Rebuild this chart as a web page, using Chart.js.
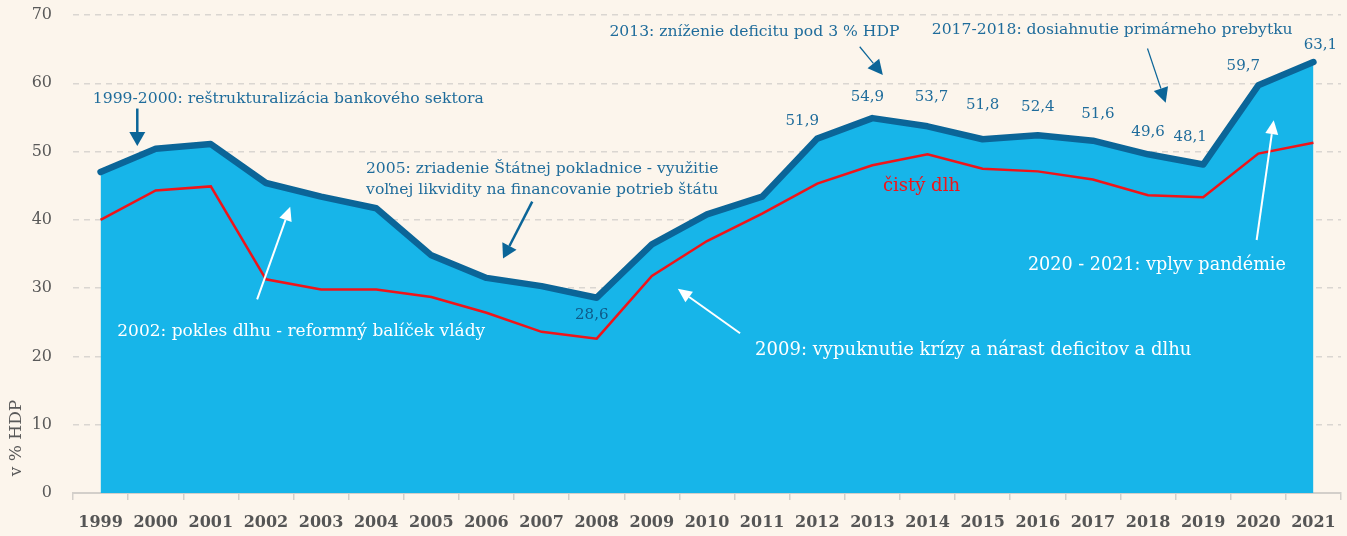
<!DOCTYPE html>
<html>
<head>
<meta charset="utf-8">
<script src="https://cdn.jsdelivr.net/npm/chart.js@4.4.0/dist/chart.umd.min.js"></script>
<style>
  html, body { margin: 0; padding: 0; background: #fcf5ec; }
  canvas { display: block; }
</style>
</head>
<body>
<canvas id="debtChart" width="1347" height="536"></canvas>
<script>
// Slovak public debt, % of GDP
const years = ['1999', '2000', '2001', '2002', '2003', '2004', '2005', '2006', '2007', '2008', '2009',
               '2010', '2011', '2012', '2013', '2014', '2015', '2016', '2017', '2018', '2019', '2020', '2021'];
const grossDebt = [47.0, 50.4, 51.1, 45.4, 43.4, 41.7, 34.8, 31.5, 30.3, 28.6, 36.4,
                   40.8, 43.4, 51.9, 54.9, 53.7, 51.8, 52.4, 51.6, 49.6, 48.1, 59.7, 63.1];
const netDebt = [40.0, 44.3, 44.9, 31.3, 29.8, 29.8, 28.7, 26.4, 23.6, 22.6, 31.8,
                 36.9, 40.9, 45.3, 48.0, 49.6, 47.5, 47.1, 45.9, 43.6, 43.3, 49.7, 51.3];
const yTickValues = [0, 10, 20, 30, 40, 50, 60, 70];
const labelledYears = ['2008', '2012', '2013', '2014', '2015', '2016', '2017', '2018', '2019', '2020', '2021'];
const axisTitle = 'v % HDP';
const netDebtLabel = 'čistý dlh';

// Pixel nudges of the value labels from their points
const valueLabelOffsets = {
  '2008': [-5, 17], '2012': [-15, -17], '2013': [-5, -21], '2014': [4, -29], '2015': [0, -34],
  '2016': [0, -28], '2017': [5, -27], '2018': [0, -22], '2019': [-13, -27], '2020': [-15, -19], '2021': [7, -17]
};

const SERIF = '"DejaVu Serif", serif';
const NOTE_BLUE = '#1f6c9b';
const LINE_BLUE = '#0b6598';
const FILL_BLUE = '#17b5e9';
const RED = '#f01419';

// Event notes, anchored in (category index, value) space
const notes = [
  { lines: ['1999-2000: reštrukturalizácia bankového sektora'], at: [-0.14, 57.7], align: 'left', color: NOTE_BLUE, size: 15.6 },
  { lines: ['2005: zriadenie Štátnej pokladnice - využitie', 'voľnej likvidity na financovanie potrieb štátu'], at: [8.01, 47.5], align: 'center', color: NOTE_BLUE, size: 15.6, lineGap: 21.5 },
  { lines: ['2013: zníženie deficitu pod 3 % HDP'], at: [11.86, 67.55], align: 'center', color: NOTE_BLUE, size: 15.6 },
  { lines: ['2017-2018: dosiahnutie primárneho prebytku'], at: [18.35, 67.8], align: 'center', color: NOTE_BLUE, size: 15.6 },
  { lines: ['2002: pokles dlhu - reformný balíček vlády'], at: [3.64, 23.6], align: 'center', color: '#ffffff', size: 17 },
  { lines: ['2009: vypuknutie krízy a nárast deficitov a dlhu'], at: [15.83, 20.94], align: 'center', color: '#ffffff', size: 18 },
  { lines: ['2020 - 2021: vplyv pandémie'], at: [19.16, 33.4], align: 'center', color: '#ffffff', size: 17.6 },
  { lines: [netDebtLabel], at: [14.89, 44.85], align: 'center', color: RED, size: 18 }
];

const arrows = [
  { from: [0.666, 56.3], to: [0.666, 50.8], color: LINE_BLUE, shaft: 2.5, head: 14, width: 16 },
  { from: [7.83, 42.66], to: [7.30, 34.35], color: LINE_BLUE, shaft: 2.5, head: 14, width: 16 },
  { from: [13.77, 65.35], to: [14.19, 61.2], color: LINE_BLUE, shaft: 1.2, head: 15, width: 15 },
  { from: [18.99, 65.1], to: [19.32, 57.15], color: LINE_BLUE, shaft: 1.2, head: 15, width: 15 },
  { from: [2.84, 28.36], to: [3.44, 41.93], color: '#ffffff', shaft: 2, head: 14, width: 13 },
  { from: [11.6, 23.4], to: [10.47, 29.9], color: '#ffffff', shaft: 2, head: 14, width: 13 },
  { from: [20.97, 37.05], to: [21.28, 54.6], color: '#ffffff', shaft: 2, head: 14, width: 13 }
];

function drawArrow(ctx, x1, y1, x2, y2, a) {
  const ang = Math.atan2(y2 - y1, x2 - x1);
  const bx = x2 - a.head * Math.cos(ang);
  const by = y2 - a.head * Math.sin(ang);
  ctx.strokeStyle = a.color;
  ctx.lineWidth = a.shaft;
  ctx.lineCap = 'butt';
  ctx.beginPath();
  ctx.moveTo(x1, y1);
  ctx.lineTo(bx, by);
  ctx.stroke();
  const hw = a.width / 2;
  ctx.fillStyle = a.color;
  ctx.beginPath();
  ctx.moveTo(x2, y2);
  ctx.lineTo(bx + hw * Math.sin(ang), by - hw * Math.cos(ang));
  ctx.lineTo(bx - hw * Math.sin(ang), by + hw * Math.cos(ang));
  ctx.closePath();
  ctx.fill();
}

const notesPlugin = {
  id: 'debtNotes',
  afterDatasetsDraw(chart) {
    const { ctx, scales: { x, y } } = chart;
    ctx.save();
    // value labels on the gross debt line
    ctx.font = '15px ' + SERIF;
    ctx.textAlign = 'center';
    ctx.textBaseline = 'middle';
    labelledYears.forEach(yr => {
      const i = years.indexOf(yr);
      const v = grossDebt[i];
      const off = valueLabelOffsets[yr];
      ctx.fillStyle = yr === '2008' ? '#0f5a88' : NOTE_BLUE;
      ctx.fillText(v.toFixed(1).replace('.', ','), x.getPixelForValue(i) + off[0], y.getPixelForValue(v) + off[1]);
    });
    // arrows
    arrows.forEach(a => drawArrow(ctx,
      x.getPixelForValue(a.from[0]), y.getPixelForValue(a.from[1]),
      x.getPixelForValue(a.to[0]), y.getPixelForValue(a.to[1]), a));
    // notes
    notes.forEach(n => {
      ctx.font = n.size + 'px ' + SERIF;
      ctx.fillStyle = n.color;
      ctx.textAlign = n.align;
      ctx.textBaseline = 'middle';
      const px = x.getPixelForValue(n.at[0]);
      const py = y.getPixelForValue(n.at[1]);
      n.lines.forEach((t, k) => ctx.fillText(t, px, py + k * (n.lineGap || 20)));
    });
    ctx.restore();
  },
  afterDraw(chart) {
    const { ctx } = chart;
    ctx.save();
    ctx.translate(17, 438);
    ctx.rotate(-Math.PI / 2);
    ctx.font = '17px ' + SERIF;
    ctx.fillStyle = '#595959';
    ctx.textAlign = 'center';
    ctx.textBaseline = 'middle';
    ctx.fillText(axisTitle, 0, 0);
    ctx.restore();
  }
};

new Chart(document.getElementById('debtChart'), {
  type: 'line',
  data: {
    labels: years,
    datasets: [
      {
        label: 'hrubý dlh',
        data: grossDebt,
        borderColor: LINE_BLUE,
        backgroundColor: FILL_BLUE,
        borderWidth: 6.5,
        borderCapStyle: 'round',
        borderJoinStyle: 'round',
        fill: 'origin',
        pointRadius: 0,
        tension: 0,
        order: 2
      },
      {
        label: netDebtLabel,
        data: netDebt,
        borderColor: RED,
        borderWidth: 2.5,
        fill: false,
        pointRadius: 0,
        tension: 0,
        order: 1
      }
    ]
  },
  options: {
    responsive: false,
    animation: false,
    layout: { autoPadding: false, padding: { top: 15, right: 6, left: 0, bottom: 0 } },
    plugins: { legend: { display: false }, tooltip: { enabled: false }, filler: { drawTime: 'beforeDatasetDraw' } },
    scales: {
      x: {
        offset: true,
        grid: { offset: true, drawOnChartArea: false, drawTicks: true, tickLength: 7, color: '#d3cfca', lineWidth: 1.5 },
        border: { display: true, color: '#d3cfca', width: 2 },
        ticks: { color: '#555555', font: { family: SERIF, size: 16, weight: 'bold' }, padding: 13, maxRotation: 0, autoSkip: false },
        afterFit(scale) { scale.height = 43; scale.paddingLeft = 0; scale.paddingRight = 0; }
      },
      y: {
        min: 0,
        max: 70,
        afterBuildTicks(scale) { scale.ticks = yTickValues.map(v => ({ value: v })); },
        grid: { color: '#dad6d1', lineWidth: 1.5, drawTicks: false, z: -1 },
        border: { display: false, dash: [6, 5] },
        ticks: { color: '#595959', font: { family: SERIF, size: 16 }, padding: 21 },
        afterFit(scale) { scale.width = 73; scale.paddingTop = 0; scale.paddingBottom = 0; }
      }
    }
  },
  plugins: [notesPlugin]
});
</script>
</body>
</html>
